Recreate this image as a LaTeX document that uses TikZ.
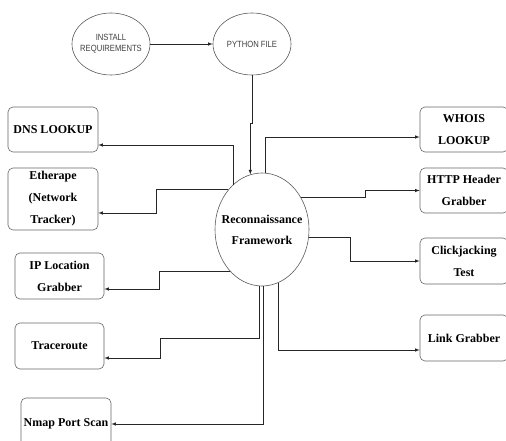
\documentclass[tikz,border=0pt]{standalone}
\usepackage{fontspec}
\setmainfont{Liberation Serif}
\newfontfamily\narrowsans[FakeStretch=0.85]{Liberation Sans}
\usetikzlibrary{shapes.geometric}

\tikzset{
	bubble/.style={draw=black!65,ellipse,inner sep=0pt,line width=0.6pt},
	bubbletext/.style={align=center,text=black!75,font=\narrowsans\fontsize{9}{11}\selectfont},
	tool/.style={draw=black!60,rounded corners=5pt,align=center,inner sep=0pt,line width=0.6pt,
		font=\bfseries\fontsize{12}{22}\selectfont,minimum width=90pt,minimum height=46pt},
	conn/.style={line width=0.6pt,draw=black!85,-latex},
}

\begin{document}
\begin{tikzpicture}[x=1pt,y=-1pt]
	\useasboundingbox (0,0) rectangle (506,441);

	% top row
	\node[bubble,minimum width=78pt,minimum height=62pt,
		label={[bubbletext]center:INSTALL\\REQUIREMENTS}] (install) at (111,44) {};
	\node[bubble,minimum width=78pt,minimum height=62pt,
		label={[bubbletext]center:PYTHON FILE}] (python) at (252,44) {};
	\node[bubble,minimum width=94pt,minimum height=113pt,
		label={[align=center,font=\bfseries\fontsize{12}{21}\selectfont]center:Reconnaissance\\Framework}] (main) at (262,229.5) {};

	% left column
	\node[tool,minimum height=45pt] (dns) at (53,129.5) {DNS LOOKUP};
	\node[tool,minimum height=62pt] (ether) at (53,199) {Etherape\\(Network\\Tracker)};
	\node[tool,minimum width=89pt] (ip) at (59.5,276) {IP Location\\Grabber};
	\node[tool,minimum width=89pt] (trace) at (59.5,346) {Traceroute};
	\node[tool,minimum height=52pt] (nmap) at (66,424) {Nmap Port Scan};

	% right column
	\node[tool,minimum width=88pt,minimum height=45pt] (whois) at (464,129.5) {WHOIS\\LOOKUP};
	\node[tool,minimum width=88pt,minimum height=45pt] (http) at (464,190.5) {HTTP Header\\Grabber};
	\node[tool,minimum width=88pt] (click) at (464,261) {Clickjacking\\Test};
	\node[tool,minimum width=88pt] (link) at (464,338) {Link Grabber};

	\draw[conn] (install) -- (python);
	\draw[conn] (python.south) -- ++(0,48) -| (main.102);

	\draw[conn] (main.123) |- ([yshift=-15.5pt]dns.east);
	\draw[conn] (main.130) -- ++(-72,0) |- ([yshift=-14pt]ether.east);
	\draw[conn] (main.232) -- ++(-70,0) |- ([yshift=-13pt]ip.east);
	\draw[conn] (main.267) -- ++(0,52) -- ++(-99,0) |- ([yshift=-12pt]trace.east);
	\draw[conn] (main.271) |- (nmap.east);

	\draw[conn] (main.87) |- ([yshift=-7.5pt]whois.west);
	\draw[conn] (main.40) -- ++(65,0) |- (http.west);
	\draw[conn] (main.350) -- ++(42,0) |- (click.west);
	\draw[conn] (main.287) |- ([yshift=-12pt]link.west);
\end{tikzpicture}
\end{document}
